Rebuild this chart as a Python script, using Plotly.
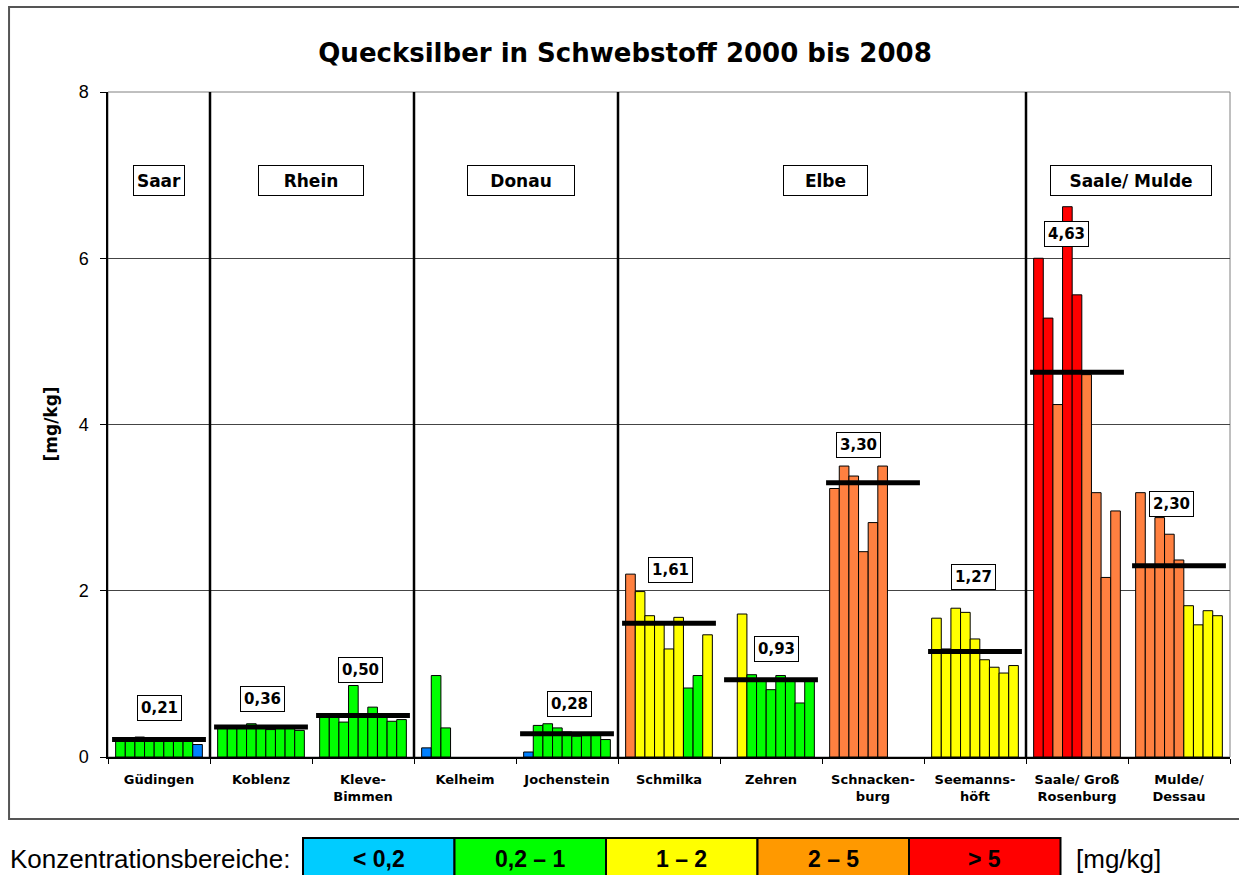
# Quecksilber in Schwebstoff 2000 bis 2008 - Balken je Jahr, Mittelwert als Linie
import plotly.graph_objects as go

stations = ["Güdingen", "Koblenz", "Kleve-<br>Bimmen", "Kelheim", "Jochenstein",
            "Schmilka", "Zehren", "Schnacken-<br>burg", "Seemanns-<br>höft",
            "Saale/ Groß<br>Rosenburg", "Mulde/<br>Dessau"]
years = [2000, 2001, 2002, 2003, 2004, 2005, 2006, 2007, 2008]

# Jahreswerte [mg/kg] je Messstelle (None = kein Wert)
guedingen = [0.21, 0.21, 0.24, 0.21, 0.21, 0.21, 0.21, 0.21, 0.15]
koblenz = [0.36, 0.36, 0.37, 0.40, 0.37, 0.33, 0.37, 0.36, 0.32]
kleve = [0.48, 0.48, 0.42, 0.86, 0.48, 0.60, 0.48, 0.43, 0.45]
kelheim = [0.11, 0.98, 0.35, None, None, None, None, None, None]
jochenstein = [0.06, 0.38, 0.40, 0.35, 0.30, 0.25, 0.26, 0.26, 0.21]
schmilka = [2.20, 1.99, 1.70, 1.62, 1.30, 1.68, 0.83, 0.98, 1.47]
zehren = [None, 1.72, 0.99, 0.93, 0.81, 0.98, 0.92, 0.65, 0.92]
schnackenburg = [3.23, 3.50, 3.38, 2.47, 2.82, 3.50, None, None, None]
seemannshoeft = [1.67, 1.30, 1.79, 1.74, 1.42, 1.17, 1.08, 1.01, 1.10]
saale = [6.00, 5.28, 4.24, 6.62, 5.56, 4.60, 3.18, 2.16, 2.96]
mulde = [3.18, 2.30, 2.88, 2.68, 2.37, 1.82, 1.59, 1.76, 1.70]

station_values = [guedingen, koblenz, kleve, kelheim, jochenstein, schmilka,
                  zehren, schnackenburg, seemannshoeft, saale, mulde]

# Mittelwerte (None = nicht angegeben)
means = [0.21, 0.36, 0.50, None, 0.28, 1.61, 0.93, 3.30, 1.27, 4.63, 2.30]

rivers = ["Saar", "Rhein", "Donau", "Elbe", "Saale/ Mulde"]
river_bounds = [0.5, 2.5, 4.5, 8.5]

range_labels = ["&lt; 0,2", "0,2 – 1", "1 – 2", "2 – 5", "&gt; 5"]
range_colors = ["#00CCFF", "#00FF00", "#FFFF00", "#FF9900", "#FF0000"]


def bar_color(v):
    if v is None:
        return "white"
    if v < 0.2:
        return "#0080FF"
    if v < 1:
        return "#00FF00"
    if v < 2:
        return "#FFFF00"
    if v < 5:
        return "#FF8040"
    return "#FF0000"


FONT = "Liberation Sans, Arial, sans-serif"
WIDE = "DejaVu Sans, Verdana, sans-serif"

fig = go.Figure()

for j, year in enumerate(years):
    vals = [sv[j] for sv in station_values]
    fig.add_trace(go.Bar(
        x=stations,
        y=vals,
        name=str(year),
        marker=dict(color=[bar_color(v) for v in vals],
                    line=dict(color="black", width=1)),
        hoverinfo="x+y+name",
    ))

shapes = []
# Rahmen Plotbereich (grau)
shapes.append(dict(type="rect", xref="paper", yref="paper", x0=0, x1=1, y0=0, y1=1,
                   line=dict(color="#808080", width=1), layer="below"))
# Trennlinien Flussgebiete
for b in river_bounds:
    shapes.append(dict(type="line", xref="x", yref="y", x0=b, x1=b, y0=0, y1=8,
                       line=dict(color="black", width=2.5)))
# Mittelwertlinien
for i, m in enumerate(means):
    if m is None:
        continue
    shapes.append(dict(type="line", xref="x", yref="y", x0=i - 0.46, x1=i + 0.46,
                       y0=m, y1=m, line=dict(color="black", width=5)))
# Aussenrahmen
shapes.append(dict(type="rect", xref="paper", yref="paper",
                   x0=-0.0882, x1=1.0105, y0=-0.0932, y1=1.1278,
                   line=dict(color="#555555", width=2)))
# Legende Konzentrationsbereiche
for k, c in enumerate(range_colors):
    x0 = (303 + k * 151.5 - 108) / 1122
    x1 = (303 + (k + 1) * 151.5 - 108) / 1122
    shapes.append(dict(type="rect", xref="paper", yref="paper",
                       x0=x0, x1=x1, y0=-0.19, y1=-0.1218,
                       fillcolor=c, line=dict(color="black", width=2)))

annotations = []
# Mittelwert-Beschriftungen (Position x-Index, y-Wert)
label_pos = [(0.0, 0.59), (1.01, 0.70), (1.98, 1.05), None, (4.02, 0.64),
             (5.01, 2.25), (6.05, 1.30), (6.86, 3.75), (7.99, 2.17),
             (8.90, 6.29), (9.93, 3.04)]
for m, pos in zip(means, label_pos):
    if m is None:
        continue
    annotations.append(dict(
        x=pos[0], y=pos[1], xref="x", yref="y", showarrow=False,
        text=f"<b>{m:.2f}</b>".replace(".", ","),
        font=dict(family=WIDE, size=15, color="black"),
        bgcolor="white", bordercolor="black", borderwidth=1, borderpad=3,
    ))
# Flussgebiets-Kaesten
river_pos = [(0.0, 52), (1.49, 106), (3.55, 108), (6.53, 85), (9.53, 162)]
for r, (px, w) in zip(rivers, river_pos):
    annotations.append(dict(
        x=px, y=6.93, xref="x", yref="y", showarrow=False,
        text=f"<b>{r}</b>", width=w - 6, height=25,
        font=dict(family=WIDE, size=17, color="black"),
        bgcolor="white", bordercolor="black", borderwidth=1, borderpad=2,
    ))
# Legendentexte
for k, lab in enumerate(range_labels):
    xc = (303 + (k + 0.5) * 151.5 - 108) / 1122
    annotations.append(dict(
        x=xc, y=-0.153, xref="paper", yref="paper", showarrow=False,
        xanchor="center", yanchor="middle",
        text=f"<b>{lab}</b>", font=dict(family=FONT, size=23, color="black"),
    ))
annotations.append(dict(
    x=(292 - 108) / 1122, y=-0.153, xref="paper", yref="paper", showarrow=False,
    xanchor="right", yanchor="middle", text="Konzentrationsbereiche:",
    font=dict(family=FONT, size=26, color="black"),
))
annotations.append(dict(
    x=(1074 - 108) / 1122, y=-0.153, xref="paper", yref="paper", showarrow=False,
    xanchor="left", yanchor="middle", text="[mg/kg]",
    font=dict(family=FONT, size=26, color="black"),
))
# Achsentitel
annotations.append(dict(
    x=(50 - 108) / 1122, y=0.5, xref="paper", yref="paper", showarrow=False,
    xanchor="center", yanchor="middle",
    text="<b>[mg/kg]</b>", textangle=-90,
    font=dict(family=WIDE, size=17, color="black"),
))

fig.update_layout(
    width=1239,
    height=875,
    margin=dict(l=108, r=9, t=92, b=118),
    paper_bgcolor="white",
    plot_bgcolor="white",
    barmode="group",
    bargap=0.15,
    bargroupgap=0,
    showlegend=False,
    title=dict(
        text="<b>Quecksilber in Schwebstoff 2000 bis 2008</b>",
        x=625 / 1239, xanchor="center", y=0.94, yanchor="middle",
        font=dict(family=WIDE, size=26, color="black"),
    ),
    xaxis=dict(
        type="category",
        showline=True, linecolor="black", linewidth=1.5,
        ticks="outside", tickson="boundaries", ticklen=5, tickcolor="black",
        ticklabelstandoff=10,
        tickfont=dict(family=WIDE, size=13, color="black"),
        tickprefix="<b>", ticksuffix="</b>",
        showgrid=False,
    ),
    yaxis=dict(
        range=[0, 8],
        tickvals=[0, 2, 4, 6, 8],
        showline=True, linecolor="black", linewidth=1.5,
        ticks="outside", ticklen=6, tickcolor="black",
        ticklabelstandoff=8,
        tickfont=dict(family=FONT, size=18, color="black"),
        showgrid=True, gridcolor="#444444", gridwidth=1,
        zeroline=False,
    ),
    shapes=shapes,
    annotations=annotations,
    font=dict(family=FONT),
)

fig.write_html("out.html", config={"displayModeBar": False},
               post_script="document.body.style.margin='0';")
